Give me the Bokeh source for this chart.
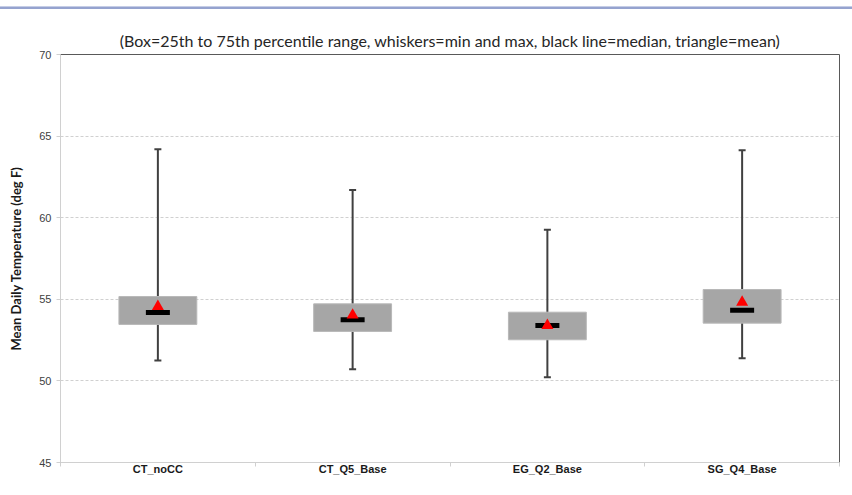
from bokeh.plotting import figure
from bokeh.models import FixedTicker, Div, Range1d, ColumnDataSource
from bokeh.layouts import column
from bokeh.embed import file_html
from bokeh.resources import INLINE

categories = ["CT_noCC", "CT_Q5_Base", "EG_Q2_Base", "SG_Q4_Base"]
mins = [51.25, 50.72, 50.23, 51.39]
q1 = [53.46, 53.03, 52.52, 53.54]
medians = [54.19, 53.74, 53.39, 54.33]
q3 = [55.17, 54.72, 54.21, 55.60]
maxs = [64.20, 61.70, 59.26, 64.14]
means = [54.56, 54.03, 53.40, 54.82]
y_ticks = [45, 50, 55, 60, 65, 70]

xpos = [i + 0.5 for i in range(len(categories))]
src = ColumnDataSource(dict(x=xpos, lo=mins, q1=q1, med=medians, q3=q3, hi=maxs, mean=means))

p = figure(frame_width=779, frame_height=408, output_backend="svg", toolbar_location=None,
           x_range=Range1d(0, 4), y_range=Range1d(45, 70),
           min_border_left=60, min_border_right=13, min_border_top=44, min_border_bottom=33,
           background_fill_color="white", border_fill_color="white")

p.title.text = "(Box=25th to 75th percentile range, whiskers=min and max, black line=median, triangle=mean)"
p.title.align = "center"
p.title.text_font = "Lato"
p.title.text_font_style = "normal"
p.title.text_font_size = "16px"
p.title.text_color = "#262626"
p.title.standoff = 9

p.outline_line_color = "#595959"
p.outline_line_width = 1

# grid
p.xgrid.grid_line_color = None
p.ygrid.grid_line_color = "#d0d0d0"
p.ygrid.grid_line_dash = "3 2"
p.ygrid.ticker = FixedTicker(ticks=y_ticks)

# y axis
p.yaxis.ticker = FixedTicker(ticks=y_ticks)
p.yaxis.axis_label = "Mean Daily Temperature (deg F)"
p.yaxis.axis_label_text_font = "Lato"
p.yaxis.axis_label_text_font_style = "bold"
p.yaxis.axis_label_text_font_size = "13px"
p.yaxis.axis_label_text_color = "#1a1a1a"
p.yaxis.axis_label_standoff = 12
p.yaxis.major_label_text_font = "Liberation Sans"
p.yaxis.major_label_text_font_size = "11px"
p.yaxis.major_label_text_color = "#404040"
p.yaxis.axis_line_color = "#d0d0d0"
p.yaxis.major_tick_line_color = "#d0d0d0"
p.yaxis.major_tick_out = 4
p.yaxis.major_tick_in = 0
p.yaxis.minor_tick_line_color = None
p.yaxis.major_label_standoff = 5

# x axis
p.xaxis.ticker = FixedTicker(ticks=xpos, minor_ticks=[0, 1, 2, 3, 4])
p.xaxis.major_label_overrides = {x: c for x, c in zip(xpos, categories)}
p.xaxis.major_label_text_font = "Liberation Sans"
p.xaxis.major_label_text_font_style = "bold"
p.xaxis.major_label_text_font_size = "11px"
p.xaxis.major_label_text_color = "#1a1a1a"
p.xaxis.axis_line_color = "#d0d0d0"
p.xaxis.major_tick_line_color = None
p.xaxis.major_tick_out = 0
p.xaxis.major_tick_in = 0
p.xaxis.minor_tick_line_color = "#d0d0d0"
p.xaxis.minor_tick_out = 4
p.xaxis.minor_tick_in = 0
p.xaxis.major_label_standoff = -4

# whiskers
p.segment(x0="x", y0="lo", x1="x", y1="hi", source=src, line_color="#404040", line_width=2)
p.rect(x="x", y="lo", width=7, height=2, width_units="screen", height_units="screen",
       source=src, fill_color="#404040", line_color=None)
p.rect(x="x", y="hi", width=7, height=2, width_units="screen", height_units="screen",
       source=src, fill_color="#404040", line_color=None)
# boxes
p.vbar(x="x", bottom="q1", top="q3", width=0.4, source=src, fill_color="#a6a6a6",
       line_color="#b8b8b8", line_width=1)
# median
p.rect(x="x", y="med", width=24, height=5, width_units="screen", height_units="screen",
       source=src, fill_color="black", line_color=None)
# mean
p.scatter(x="x", y="mean", marker="triangle", size=12, source=src, fill_color="#ff0000",
          line_color=None)

top_line = Div(text="", width=852, height=3, margin=(6, 0, 1, 0),
               styles={"background-color": "#95a3cf", "border-top": "1px solid #c5cde6"})

layout = column(top_line, p, spacing=0)
open("out.html", "w").write(file_html(layout, INLINE))
